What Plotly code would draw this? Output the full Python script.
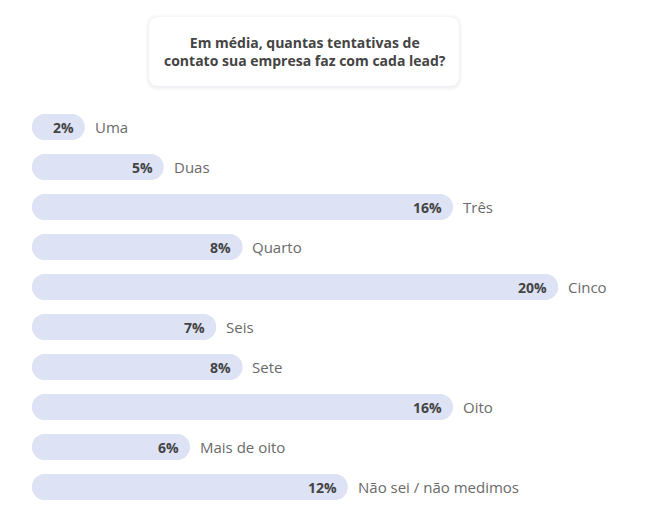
import plotly.graph_objects as go

categories = ["Uma", "Duas", "Três", "Quarto", "Cinco", "Seis", "Sete", "Oito",
              "Mais de oito", "Não sei / não medimos"]
values = [2, 5, 16, 8, 20, 7, 8, 16, 6, 12]
title_lines = ["Em média, quantas tentativas de", "contato sua empresa faz com cada lead?"]

OFF = 8                      # page body margin
W, H = 646 - OFF, 527 - OFF  # figure size so it fits the window
ml, mr, mt, mb = 32 - OFF, 0, 107 - OFF, 20
plot_w = W - ml - mr
plot_h = H - mt - mb
px_per_unit = 26.3
xmax = plot_w / px_per_unit

BAR = "#dde3f5"
FONT = "Open Sans, sans-serif"

fig = go.Figure()
# bar from 0 to value (rounded at the value end)
fig.add_trace(go.Bar(y=categories, x=values, base=0, orientation="h", width=0.65,
                     marker=dict(color=BAR, cornerradius=13, line_width=0),
                     hoverinfo="skip"))
# same bar drawn from value back to 0 (rounded at the zero end)
fig.add_trace(go.Bar(y=categories, x=[-v for v in values], base=values, orientation="h",
                     width=0.65, marker=dict(color=BAR, cornerradius=13, line_width=0),
                     hoverinfo="skip"))

annotations = []
for c, v in zip(categories, values):
    annotations.append(dict(x=v, y=c, xref="x", yref="y", text=f"<b>{v}%</b>",
                            showarrow=False, xanchor="right", xshift=-9,
                            font=dict(family=FONT, size=14, color="#444444")))
    annotations.append(dict(x=v, y=c, xref="x", yref="y", text=c,
                            showarrow=False, xanchor="left", xshift=8,
                            font=dict(family=FONT, size=15, color="#6a6a6a")))


def px_x(p):
    return (p - OFF - ml) / plot_w


def px_y(p):
    return (H - mb - (p - OFF)) / plot_h


def rrect(x0, y0, x1, y1, r):
    rx, ry = r / plot_w, r / plot_h
    X0, X1 = px_x(x0), px_x(x1)
    Y0, Y1 = px_y(y0), px_y(y1)  # Y0 top (larger), Y1 bottom
    return (f"M {X0+rx},{Y0} L {X1-rx},{Y0} Q {X1},{Y0} {X1},{Y0-ry} "
            f"L {X1},{Y1+ry} Q {X1},{Y1} {X1-rx},{Y1} L {X0+rx},{Y1} "
            f"Q {X0},{Y1} {X0},{Y1+ry} L {X0},{Y0-ry} Q {X0},{Y0} {X0+rx},{Y0} Z")


shapes = []
for d, a in [(4, 0.012), (3, 0.016), (2, 0.02), (1, 0.025)]:
    shapes.append(dict(type="path", xref="paper", yref="paper",
                       path=rrect(149 - d, 17 - d + 1, 459 + d, 86 + d + 1, 10 + d),
                       fillcolor=f"rgba(60,70,110,{a})", line_width=0, layer="below"))
shapes.append(dict(type="path", xref="paper", yref="paper",
                   path=rrect(149, 17, 459, 86, 10),
                   fillcolor="white", line_width=0, layer="below"))

annotations.append(dict(x=px_x(305), y=px_y(51.5), xref="paper", yref="paper",
                        text="<b>" + title_lines[0] + "</b><br><b>" + title_lines[1] + "</b>",
                        showarrow=False, xanchor="center", yanchor="middle", align="center",
                        font=dict(family=FONT, size=14, color="#444444")))

fig.update_layout(
    width=W, height=H, margin=dict(l=ml, r=mr, t=mt, b=mb, pad=0),
    paper_bgcolor="white", plot_bgcolor="white",
    barmode="overlay", showlegend=False,
    xaxis=dict(range=[0, xmax], visible=False, fixedrange=True),
    yaxis=dict(type="category", categoryorder="array", categoryarray=categories,
               range=[len(categories) - 0.5, -0.5], visible=False, fixedrange=True),
    annotations=annotations, shapes=shapes,
)

fig.write_html("out.html", config={"displayModeBar": False})
